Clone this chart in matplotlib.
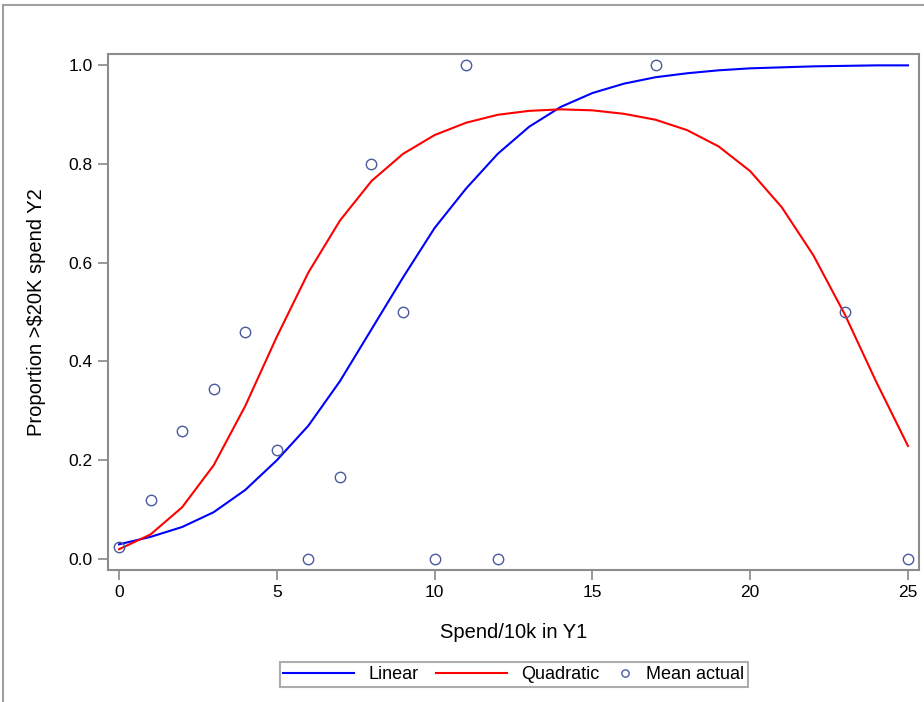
import matplotlib
matplotlib.use('Agg')
import matplotlib.pyplot as plt
from matplotlib.patches import Rectangle
from matplotlib.legend_handler import HandlerLine2D

# fitted curves, read at integer spend values
x_fit = list(range(26))
linear = [0.03, 0.045, 0.065, 0.095, 0.14, 0.20, 0.27, 0.36, 0.465, 0.57, 0.67, 0.75, 0.82,
          0.875, 0.915, 0.943, 0.962, 0.975, 0.983, 0.989, 0.993, 0.995, 0.997, 0.998, 0.999, 0.999]
quadratic = [0.02, 0.05, 0.105, 0.19, 0.31, 0.45, 0.58, 0.685, 0.765, 0.82, 0.858, 0.883, 0.899,
             0.907, 0.91, 0.908, 0.901, 0.889, 0.868, 0.835, 0.785, 0.712, 0.615, 0.495, 0.358, 0.229]

# observed means
x_obs = [0, 1, 2, 3, 4, 5, 6, 7, 8, 9, 10, 11, 12, 17, 23, 25]
mean_actual = [0.025, 0.12, 0.26, 0.345, 0.46, 0.22, 0.0, 0.167, 0.8, 0.5, 0.0, 1.0, 0.0, 1.0, 0.5, 0.0]


class NarrowHandler(HandlerLine2D):
    # short legend slot for the marker-only entry
    def legend_artist(self, legend, orig_handle, fontsize, handlebox):
        handlebox.width = 0.8 * fontsize
        return super().legend_artist(legend, orig_handle, fontsize, handlebox)


plt.rcParams['font.family'] = ['Liberation Sans', 'DejaVu Sans']

fig = plt.figure(figsize=(9.24, 7.02), dpi=100)
fig.patches.append(Rectangle((3 / 924, -0.1), 1.2, 1 - 5 / 702 + 0.1, transform=fig.transFigure,
                             fill=False, edgecolor='#a0a0a0', linewidth=1.5))
ax = fig.add_axes([108 / 924, 1 - 570 / 702, 811 / 924, 516 / 702])

ax.plot(x_fit, linear, color='#0000ff', linewidth=1.5, label='Linear')
ax.plot(x_fit, quadratic, color='#ff0000', linewidth=1.5, label='Quadratic')
pts, = ax.plot(x_obs, mean_actual, linestyle='none', marker='o', markersize=7.5, markerfacecolor='none',
               markeredgecolor='#4a5a9c', markeredgewidth=1.0, label='Mean actual')

ax.set_xlim(-0.35, 25.35)
ax.set_ylim(-0.022, 1.022)
ax.set_xticks([0, 5, 10, 15, 20, 25])
ax.set_yticks([0.0, 0.2, 0.4, 0.6, 0.8, 1.0])
ax.set_yticklabels(['0.0', '0.2', '0.4', '0.6', '0.8', '1.0'])
ax.tick_params(direction='out', length=7, width=1.2, color='#888888', labelsize=12.5, pad=4)
for s in ax.spines.values():
    s.set_color('#8c8c8c')
    s.set_linewidth(1.5)

ax.set_xlabel('Spend/10k in Y1', fontsize=14.5, labelpad=16)
ax.set_ylabel('Proportion >$20K spend Y2', fontsize=14.5, labelpad=16)

leg = fig.legend(loc='center', bbox_to_anchor=(514 / 924, 1 - 674.5 / 702), ncol=3, fontsize=13,
                 frameon=True, fancybox=False, handlelength=3.9, columnspacing=1.0,
                 handletextpad=0.8, borderpad=0.2, markerscale=0.7,
                 handler_map={pts: NarrowHandler()})
leg.get_frame().set_edgecolor('#999999')
leg.get_frame().set_linewidth(1.5)

fig.savefig('out.png', dpi=100)
